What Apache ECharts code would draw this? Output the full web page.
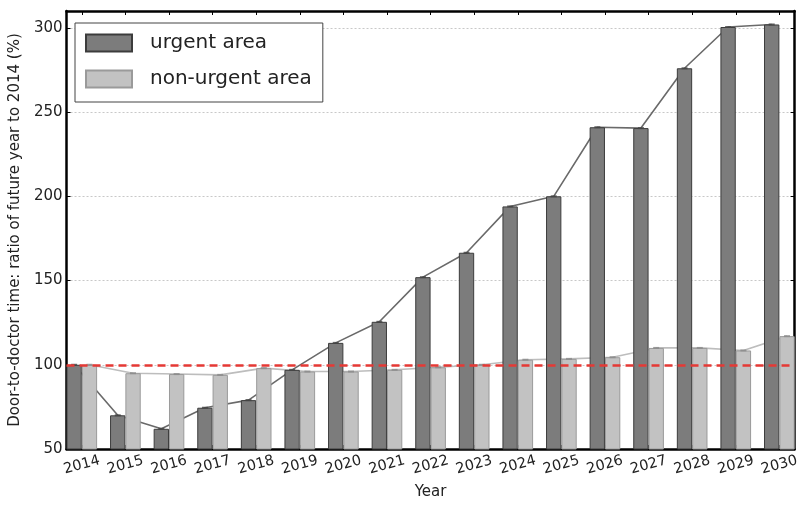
<!DOCTYPE html>
<html>
<head>
<meta charset="utf-8">
<script src="https://cdn.jsdelivr.net/npm/echarts@6/dist/echarts.min.js"></script>
<style>
html,body{margin:0;padding:0;background:#fff;}
#chart{width:802px;height:506px;}
</style>
</head>
<body>
<div id="chart"></div>
<script>
const years = ['2014','2015','2016','2017','2018','2019','2020','2021','2022','2023','2024','2025','2026','2027','2028','2029','2030'];
const urgent = [100, 70, 62, 74.5, 79, 97, 113, 125.5, 152, 166.5, 194, 200, 241, 240.5, 276, 300.5, 302];
const nonUrgent = [100, 95, 94.5, 94, 98, 96, 96, 97, 98.5, 100, 103, 103.5, 104.5, 110, 110, 108.5, 117];
const yTicks = [50, 100, 150, 200, 250, 300];
const baseline = 100;

const W = 0.35; // bar width in category units
const tickPos = years.map((y, i) => i + W);
const urgentBars = urgent.map((v, i) => [i + W, v]);
const nonUrgentBars = nonUrgent.map((v, i) => [i + W, v]);
const urgentPts = urgent.map((v, i) => [i + W / 2, v]);
const nonUrgentPts = nonUrgent.map((v, i) => [i + 1.5 * W, v]);

const chart = echarts.init(document.getElementById('chart'), null, {renderer: 'canvas'});
const font = 'DejaVu Sans';
const unitPx = (802 - 5 - 65.5) / (years.length - 1 + 2 * W);

function yearLabel(v) {
  const i = Math.round(v - W);
  return years[i] !== undefined ? years[i] : '';
}

chart.setOption({
  animation: false,
  backgroundColor: '#fff',
  grid: {left: 65.5, right: 5, top: 11, bottom: 57, containLabel: false},
  legend: {
    data: [{name: 'urgent area', icon: 'rect'}, {name: 'non-urgent area', icon: 'rect'}],
    orient: 'vertical',
    left: 75, top: 23,
    padding: [10, 11, 13, 10],
    itemGap: 16,
    itemWidth: 46, itemHeight: 17,
    backgroundColor: '#fff',
    borderColor: '#444', borderWidth: 1, borderRadius: 0,
    textStyle: {fontFamily: font, fontSize: 20, color: '#222', padding: [0, 0, 0, 13]}
  },
  xAxis: [{
    type: 'value', min: 0, max: years.length - 1 + 2 * W,
    name: 'Year', nameLocation: 'middle', nameGap: 36,
    nameTextStyle: {fontFamily: font, fontSize: 15, color: '#222'},
    axisLine: {show: true, onZero: false, lineStyle: {color: '#000', width: 2.5}},
    axisTick: {show: true, inside: true, length: 4, customValues: tickPos, lineStyle: {color: '#000'}},
    axisLabel: {show: true, customValues: tickPos, formatter: yearLabel, rotate: 15, align: 'center', verticalAlign: 'middle', margin: 16,
      fontFamily: font, fontSize: 14.5, color: '#222'},
    splitLine: {show: false}
  }, {
    type: 'value', position: 'top', min: 0, max: years.length - 1 + 2 * W,
    axisLine: {show: true, onZero: false, lineStyle: {color: '#000', width: 2.5}},
    axisTick: {show: true, inside: true, length: 4, customValues: tickPos, lineStyle: {color: '#000'}},
    axisLabel: {show: false},
    splitLine: {show: false}
  }],
  yAxis: [{
    type: 'value', min: 50, max: 310, interval: 50,
    name: 'Door-to-doctor time: ratio of future year to 2014 (%)',
    nameLocation: 'middle', nameGap: 38,
    nameTextStyle: {fontFamily: font, fontSize: 15, color: '#222'},
    axisLine: {show: true, onZero: false, lineStyle: {color: '#000', width: 2.5}},
    axisTick: {show: true, inside: true, length: 4, lineStyle: {color: '#000'}},
    axisLabel: {show: true, showMaxLabel: false, margin: 4, fontFamily: font, fontSize: 15, color: '#222',
      formatter: v => (yTicks.indexOf(v) >= 0 ? String(v) : '')},
    splitLine: {show: true, lineStyle: {color: '#c8c8c8', type: [2, 2], width: 1}}
  }, {
    type: 'value', position: 'right', min: 50, max: 310, interval: 50,
    axisLine: {show: true, onZero: false, lineStyle: {color: '#000', width: 2.5}},
    axisTick: {show: true, inside: true, length: 4, lineStyle: {color: '#000'}},
    axisLabel: {show: false},
    splitLine: {show: false}
  }],
  series: [
    {
      name: 'urgent area', type: 'bar', xAxisIndex: 0, yAxisIndex: 0,
      data: urgentBars, barWidth: W * unitPx, barGap: '0%', z: 3,
      itemStyle: {color: '#7c7c7c', borderColor: '#3c3c3c', borderWidth: 1}
    },
    {
      name: 'non-urgent area', type: 'bar', xAxisIndex: 0, yAxisIndex: 0,
      data: nonUrgentBars, barWidth: W * unitPx, barGap: '0%', z: 3,
      itemStyle: {color: '#c2c2c2', borderColor: '#9a9a9a', borderWidth: 1},
      markLine: {
        silent: true, symbol: 'none', z: 5,
        label: {show: false},
        lineStyle: {color: '#e53935', type: [8, 5], width: 2.5},
        data: [{yAxis: baseline}]
      }
    },
    {
      name: 'urgent trend', type: 'line', data: urgentPts, z: 1,
      showSymbol: false, symbol: 'none',
      lineStyle: {color: '#6a6a6a', width: 1.6}
    },
    {
      name: 'non-urgent trend', type: 'line', data: nonUrgentPts, z: 1,
      showSymbol: false, symbol: 'none',
      lineStyle: {color: '#bdbdbd', width: 1.6}
    },
    {
      name: 'urgent cap', type: 'scatter', data: urgentPts, z: 4,
      symbol: 'rect', symbolSize: [6, 2],
      itemStyle: {color: '#444'}
    },
    {
      name: 'non-urgent cap', type: 'scatter', data: nonUrgentPts, z: 4,
      symbol: 'rect', symbolSize: [6, 2],
      itemStyle: {color: '#8a8a8a'}
    }
  ]
});
</script>
</body>
</html>
